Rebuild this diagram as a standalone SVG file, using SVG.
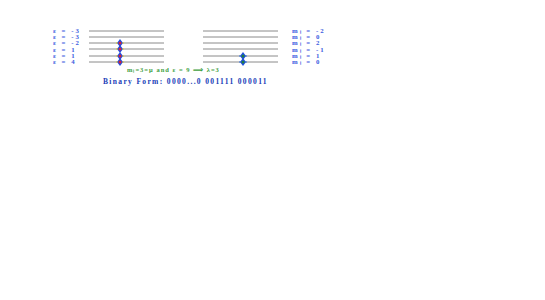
<svg xmlns="http://www.w3.org/2000/svg" width="545" height="300" viewBox="0 0 545 300">
<style>
.lv{stroke:#8a8a8a;stroke-width:1}
.lb{font-family:"Liberation Serif",serif;font-weight:bold;font-size:6.8px;fill:#3a5ae0;letter-spacing:2px}
.gr{font-family:"Liberation Serif",serif;font-weight:bold;font-size:6.5px;fill:#40a040;letter-spacing:1px}
.bf{font-family:"Liberation Serif",serif;font-weight:bold;font-size:7.5px;fill:#2040b8;letter-spacing:1.35px}
</style>
<defs>
<g id="eL">
<path d="M0,-4 L3,0 L0,4 L-3,0 Z" fill="#2050e0"/>
<path d="M-4,0 L-2.4,0 M2.4,0 L4,0" stroke="#e0d020" stroke-width="1"/>
<circle r="1.5" fill="#d02040"/>
</g>
<g id="eR">
<path d="M0,-4 L3,0 L0,4 L-3,0 Z" fill="#2050e0"/>
<path d="M-4,0 L-2.4,0 M2.4,0 L4,0" stroke="#3070e0" stroke-width="1"/>
<circle r="1.5" fill="#208040"/>
</g>
</defs>
<g id="left-levels">
<line class="lv" x1="89" y1="31" x2="164" y2="31"/>
<line class="lv" x1="89" y1="37" x2="164" y2="37"/>
<line class="lv" x1="89" y1="43" x2="164" y2="43"/>
<line class="lv" x1="89" y1="49" x2="164" y2="49"/>
<line class="lv" x1="89" y1="56" x2="164" y2="56"/>
<line class="lv" x1="89" y1="62" x2="164" y2="62"/>
</g>
<g id="right-levels">
<line class="lv" x1="203" y1="31" x2="278" y2="31"/>
<line class="lv" x1="203" y1="37" x2="278" y2="37"/>
<line class="lv" x1="203" y1="43" x2="278" y2="43"/>
<line class="lv" x1="203" y1="49" x2="278" y2="49"/>
<line class="lv" x1="203" y1="56" x2="278" y2="56"/>
<line class="lv" x1="203" y1="62" x2="278" y2="62"/>
</g>
<g id="left-labels">
<text class="lb" x="53" y="33">ε = -3</text>
<text class="lb" x="53" y="39">ε = -3</text>
<text class="lb" x="53" y="45">ε = -2</text>
<text class="lb" x="53" y="51.5">ε = 1</text>
<text class="lb" x="53" y="58">ε = 1</text>
<text class="lb" x="53" y="64">ε = 4</text>
</g>
<g id="right-labels">
<text class="lb" x="292" y="33">mₗ = -2</text>
<text class="lb" x="292" y="39">mₗ = 0</text>
<text class="lb" x="292" y="45">mₗ = 2</text>
<text class="lb" x="292" y="51.5">mₗ = -1</text>
<text class="lb" x="292" y="58">mₗ = 1</text>
<text class="lb" x="292" y="64">mₗ = 0</text>
</g>
<g id="left-electrons">
<use href="#eL" x="120" y="43"/>
<use href="#eL" x="120" y="49"/>
<use href="#eL" x="120" y="56"/>
<use href="#eL" x="120" y="62"/>
</g>
<g id="right-electrons">
<use href="#eR" x="243" y="56"/>
<use href="#eR" x="243" y="62"/>
</g>
<text class="gr" x="127" y="72">mₗ=3=μ and  ε = 9 ⟹ λ=3</text>
<text class="bf" x="103" y="84">Binary Form:   0000...0  001111  000011</text>
</svg>
